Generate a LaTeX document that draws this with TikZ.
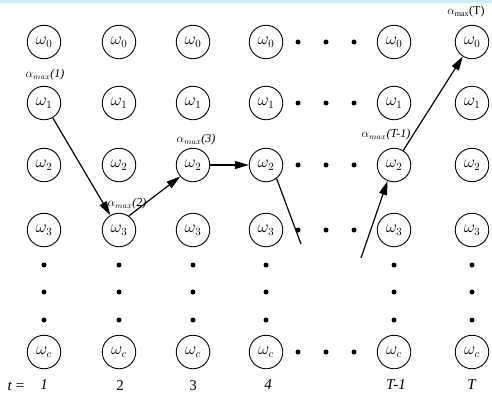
\documentclass[tikz,border=0pt]{standalone}
\usepackage{fontspec}
\setmainfont{Liberation Serif}
\usetikzlibrary{arrows.meta}
\definecolor{scanedge}{RGB}{200,238,248}
\begin{document}
\begin{tikzpicture}[x=1pt,y=-1pt,
  state/.style={circle,draw,line width=0.9pt,minimum size=33.5pt,inner sep=0pt,font=\fontsize{16}{18}\selectfont},
  dotnode/.style={circle,fill,inner sep=0pt,minimum size=5pt},
  path/.style={line width=1.2pt,-{Triangle[length=14pt,width=8pt]}},
  bare/.style={line width=1.2pt},
  lab/.style={font=\fontsize{12}{14}\selectfont,inner sep=0pt},
  tlab/.style={font=\fontsize{15}{17}\selectfont,inner sep=0pt}]
\useasboundingbox (0,0) rectangle (492,394);
\fill[scanedge] (0,0) rectangle (492,2.5);
% columns
\def\cA{44}\def\cB{119}\def\cC{193}\def\cD{266}\def\cE{394}\def\cF{472}
\foreach \c/\x in {1/\cA,2/\cB,3/\cC,4/\cD,5/\cE,6/\cF}{
  \node[state] (c\c r0) at (\x,42) {$\omega_0$};
  \node[state] (c\c r1) at (\x,103) {$\omega_1$};
  \node[state] (c\c r2) at (\x,165) {$\omega_2$};
  \node[state] (c\c r3) at (\x,230) {$\omega_3$};
  \node[state] (c\c rc) at (\x,352) {$\omega_c$};
  \node[dotnode] (v\c a) at (\x,265) {};
  \node[dotnode] (v\c b) at (\x,292) {};
  \node[dotnode] (v\c c) at (\x,320) {};
}
\foreach \r/\y in {0/42,1/103,2/165,3/230,c/352}{
  \node[dotnode] (h\r a) at (298,\y) {};
  \node[dotnode] (h\r b) at (326,\y) {};
  \node[dotnode] (h\r c) at (354,\y) {};
}
% path
\coordinate (e1) at (301,244);
\coordinate (e2) at (361,258);
\draw[path] (c1r1) -- (c2r3);
\draw[path] (c2r3.55) -- (c3r2.222);
\draw[path] (c3r2) -- (c4r2);
\draw[bare] (c4r2.-52) -- (e1);
\draw[path] (e2) -- (c5r2.-112);
\draw[path] (c5r2) -- (c6r0);
% labels
\node[lab] (l1) at (45,75) {$\alpha_{max}$\textit{(1)}};
\node[lab] (l2) at (127,204) {$\alpha_{max}$\textit{(2)}};
\node[lab] (l3) at (196,140) {$\alpha_{max}$\textit{(3)}};
\node[lab] (l4) at (386,135) {$\alpha_{max}$\textit{(T-1)}};
\node[lab] (l5) at (466,12) {$\alpha_{\mathrm{max}}$(T)};
% time axis
\node[tlab] (t0) at (16,386) {\textit{t} =};
\node[tlab] (t1) at (44,385) {\textit{1}};
\node[tlab] (t2) at (120,386) {2};
\node[tlab] (t3) at (193,386) {3};
\node[tlab] (t4) at (268,385) {\textit{4}};
\node[tlab] (t5) at (396,385) {\textit{T-1}};
\node[tlab] (t6) at (472,385) {\textit{T}};
\end{tikzpicture}
\end{document}
